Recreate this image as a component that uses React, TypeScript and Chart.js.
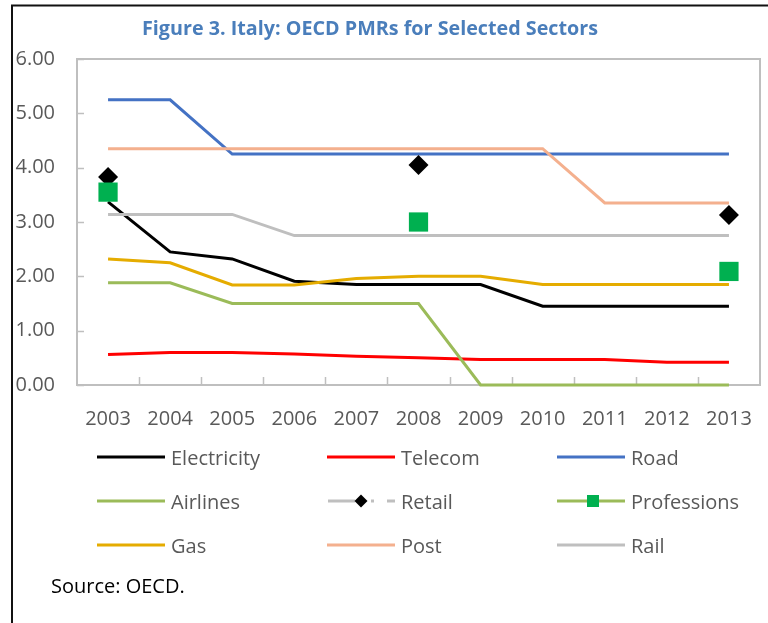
import React, { useEffect, useRef } from 'react';
import { Chart, registerables } from 'chart.js';

Chart.register(...registerables);

const years = ['2003', '2004', '2005', '2006', '2007', '2008', '2009', '2010', '2011', '2012', '2013'];
const electricity = [3.37, 2.45, 2.32, 1.91, 1.85, 1.85, 1.85, 1.45, 1.45, 1.45, 1.45];
const telecom = [0.56, 0.6, 0.6, 0.57, 0.53, 0.5, 0.47, 0.47, 0.47, 0.42, 0.42];
const road = [5.25, 5.25, 4.25, 4.25, 4.25, 4.25, 4.25, 4.25, 4.25, 4.25, 4.25];
const airlines = [1.88, 1.88, 1.5, 1.5, 1.5, 1.5, 0, 0, 0, 0, 0];
const retail = [3.83, null, null, null, null, 4.05, null, null, null, null, 3.13];
const professions = [3.55, null, null, null, null, 3.0, null, null, null, null, 2.09];
const gas = [2.32, 2.25, 1.84, 1.84, 1.96, 2.0, 2.0, 1.85, 1.85, 1.85, 1.85];
const post = [4.35, 4.35, 4.35, 4.35, 4.35, 4.35, 4.35, 4.35, 3.35, 3.35, 3.35];
const rail = [3.14, 3.14, 3.14, 2.75, 2.75, 2.75, 2.75, 2.75, 2.75, 2.75, 2.75];
const yTickValues = [0, 1, 2, 3, 4, 5, 6];

const TITLE = 'Figure 3. Italy: OECD PMRs for Selected Sectors';
const SOURCE = 'Source: OECD.';
const FONT = '"Open Sans", "Noto Sans", sans-serif';

const C = {
  electricity: '#000000',
  telecom: '#FF0000',
  road: '#4472C4',
  airlines: '#9BBB59',
  retailLine: '#BFBFBF',
  retail: '#000000',
  professions: '#00B050',
  gas: '#E5AC00',
  post: '#F4B08E',
  rail: '#BFBFBF',
};

export default function App() {
  const ref = useRef<HTMLCanvasElement>(null);

  useEffect(() => {
    const canvas = ref.current;
    if (!canvas) return;

    const decor = {
      id: 'decor',
      beforeDraw(chart: any) {
        const ctx = chart.ctx;
        ctx.save();
        ctx.fillStyle = '#ffffff';
        ctx.fillRect(0, 0, chart.width, chart.height);
        ctx.strokeStyle = '#111111';
        ctx.lineWidth = 2;
        ctx.beginPath();
        ctx.moveTo(12, chart.height + 2);
        ctx.lineTo(12, 5.5);
        ctx.lineTo(chart.width + 2, 5.5);
        ctx.stroke();
        ctx.restore();
      },
      beforeDatasetsDraw(chart: any) {
        const { ctx, chartArea: a, scales } = chart;
        ctx.save();
        ctx.strokeStyle = '#BFBFBF';
        ctx.lineWidth = 2;
        ctx.strokeRect(a.left, a.top, a.right - a.left, a.bottom - a.top);
        ctx.lineWidth = 1.5;
        const xs = scales.x;
        for (let i = 1; i < years.length; i++) {
          const px = Math.round((xs.getPixelForValue(i - 1) + xs.getPixelForValue(i)) / 2) + 0.5;
          ctx.beginPath();
          ctx.moveTo(px, a.bottom);
          ctx.lineTo(px, a.bottom - 8);
          ctx.stroke();
        }
        const ys = scales.y;
        for (const v of yTickValues) {
          const py = Math.round(ys.getPixelForValue(v)) + 0.5;
          ctx.beginPath();
          ctx.moveTo(a.left, py);
          ctx.lineTo(a.left + 7, py);
          ctx.stroke();
        }
        ctx.restore();
      },
      afterDraw(chart: any) {
        const ctx = chart.ctx;
        ctx.save();
        // title
        ctx.font = `bold 20px ${FONT}`;
        ctx.fillStyle = '#4A7EBB';
        ctx.textBaseline = 'alphabetic';
        ctx.textAlign = 'left';
        const w = ctx.measureText(TITLE).width;
        const target = 456;
        ctx.save();
        ctx.translate(142, 35);
        ctx.scale(target / w, 1);
        ctx.fillText(TITLE, 0, 0);
        ctx.restore();

        // legend
        const cols = [97, 327, 557];
        const rows = [457, 501, 545];
        const len = 68;
        const ds = chart.data.datasets;
        ctx.font = `20px ${FONT}`;
        ds.forEach((d: any, i: number) => {
          const cx = cols[i % 3];
          const cy = rows[Math.floor(i / 3)];
          ctx.lineCap = 'butt';
          if (d.label === 'Retail') {
            ctx.strokeStyle = C.retailLine;
            ctx.lineWidth = 3;
            ctx.beginPath();
            ctx.moveTo(cx + 1, cy);
            ctx.lineTo(cx + 28, cy);
            ctx.moveTo(cx + 44, cy);
            ctx.lineTo(cx + 47, cy);
            ctx.moveTo(cx + 60, cy);
            ctx.lineTo(cx + len, cy);
            ctx.stroke();
            ctx.fillStyle = C.retail;
            ctx.beginPath();
            const dx = cx + 34;
            ctx.moveTo(dx, cy - 6.5);
            ctx.lineTo(dx + 6.5, cy);
            ctx.lineTo(dx, cy + 6.5);
            ctx.lineTo(dx - 6.5, cy);
            ctx.closePath();
            ctx.fill();
          } else if (d.label === 'Professions') {
            ctx.strokeStyle = C.airlines;
            ctx.lineWidth = 3;
            ctx.beginPath();
            ctx.moveTo(cx, cy);
            ctx.lineTo(cx + len, cy);
            ctx.stroke();
            ctx.fillStyle = C.professions;
            ctx.fillRect(cx + 36 - 6, cy - 6, 12, 12);
          } else {
            ctx.strokeStyle = d.borderColor;
            ctx.lineWidth = 3;
            ctx.beginPath();
            ctx.moveTo(cx, cy);
            ctx.lineTo(cx + len, cy);
            ctx.stroke();
          }
          ctx.fillStyle = '#595959';
          ctx.textAlign = 'left';
          ctx.textBaseline = 'alphabetic';
          ctx.fillText(d.label, cx + len + 6, cy + 8);
        });

        // source
        ctx.fillStyle = '#000000';
        ctx.font = `20px ${FONT}`;
        ctx.fillText(SOURCE, 51, 593);
        ctx.restore();
      },
    };

    const lineDs = (label: string, data: (number | null)[], color: string, order: number) => ({
      label,
      data,
      borderColor: color,
      backgroundColor: color,
      borderWidth: 3,
      pointRadius: 0,
      pointHoverRadius: 0,
      tension: 0,
      fill: false,
      clip: false,
      order,
    });

    const chart = new Chart(canvas, {
      type: 'line',
      data: {
        labels: years,
        datasets: [
          lineDs('Electricity', electricity, C.electricity, 9),
          lineDs('Telecom', telecom, C.telecom, 8),
          lineDs('Road', road, C.road, 7),
          lineDs('Airlines', airlines, C.airlines, 6),
          {
            label: 'Retail',
            data: retail,
            borderColor: C.retailLine,
            backgroundColor: C.retail,
            showLine: false,
            pointStyle: 'rectRot',
            pointRadius: 10,
            pointHoverRadius: 10,
            pointBorderWidth: 0,
            pointBackgroundColor: C.retail,
            pointBorderColor: C.retail,
            clip: false,
            order: 0,
          },
          {
            label: 'Professions',
            data: professions,
            borderColor: C.airlines,
            backgroundColor: C.professions,
            showLine: false,
            pointStyle: 'rect',
            pointRadius: 13.6,
            pointHoverRadius: 13.6,
            pointBorderWidth: 0,
            pointBackgroundColor: C.professions,
            pointBorderColor: C.professions,
            clip: false,
            order: -1,
          },
          lineDs('Gas', gas, C.gas, 3),
          lineDs('Post', post, C.post, 2),
          lineDs('Rail', rail, C.rail, 1),
        ] as any,
      },
      options: {
        responsive: false,
        animation: false,
        devicePixelRatio: 1,
        layout: { autoPadding: false, padding: { left: 0, right: 8, top: 59, bottom: 0 } },
        plugins: {
          legend: { display: false },
          title: { display: false },
          tooltip: { enabled: false },
        },
        events: [],
        scales: {
          x: {
            type: 'category',
            offset: true,
            grid: { display: false, drawTicks: false },
            border: { display: false },
            ticks: {
              color: '#595959',
              font: { family: FONT, size: 20 },
              padding: 22,
              maxRotation: 0,
              autoSkip: false,
            },
            afterFit(scale: any) {
              scale.height = 238;
              scale.paddingLeft = 0;
              scale.paddingRight = 0;
            },
          },
          y: {
            min: 0,
            max: 6,
            grid: { display: false, drawTicks: false },
            border: { display: false },
            ticks: {
              stepSize: 1,
              color: '#595959',
              font: { family: FONT, size: 20 },
              padding: 22,
              callback: (v: any) => Number(v).toFixed(2),
            },
            afterFit(scale: any) {
              scale.width = 77;
            },
          },
        },
      } as any,
      plugins: [decor],
    });

    return () => chart.destroy();
  }, []);

  return (
    <div style={{ position: 'absolute', left: 0, top: 0, width: 768, height: 623, background: '#fff' }}>
      <canvas ref={ref} width={768} height={623} style={{ display: 'block' }} />
    </div>
  );
}
